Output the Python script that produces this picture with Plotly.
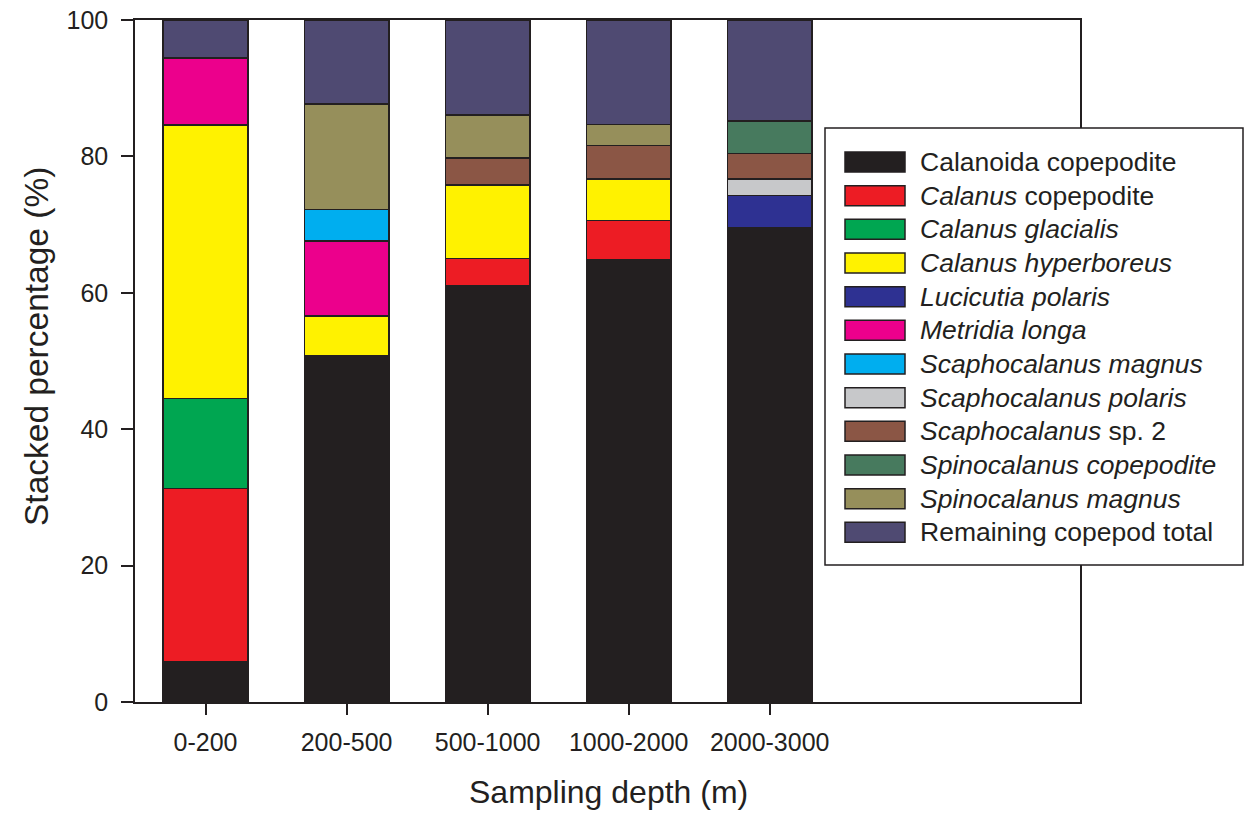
import plotly.graph_objects as go

# Sampling depth intervals (m)
depths = ["0-200", "200-500", "500-1000", "1000-2000", "2000-3000"]

# Taxon names (HTML markup for italics) and stacked percentages per depth
taxa = [
    "Calanoida copepodite",
    "<i>Calanus</i> copepodite",
    "<i>Calanus glacialis</i>",
    "<i>Calanus hyperboreus</i>",
    "<i>Lucicutia polaris</i>",
    "<i>Metridia longa</i>",
    "<i>Scaphocalanus magnus</i>",
    "<i>Scaphocalanus polaris</i>",
    "<i>Scaphocalanus</i> sp. 2",
    "<i>Spinocalanus copepodite</i>",
    "<i>Spinocalanus magnus</i>",
    "Remaining copepod total",
]

calanoida_copepodite = [5.9, 50.8, 61.0, 64.8, 69.6]
calanus_copepodite = [25.4, None, 4.0, 5.8, None]
calanus_glacialis = [13.2, None, None, None, None]
calanus_hyperboreus = [40.1, 5.8, 10.8, 6.1, None]
lucicutia_polaris = [None, None, None, None, 4.7]
metridia_longa = [9.8, 11.0, None, None, None]
scaphocalanus_magnus = [None, 4.6, None, None, None]
scaphocalanus_polaris = [None, None, None, None, 2.4]
scaphocalanus_sp2 = [None, None, 4.0, 4.9, 3.7]
spinocalanus_copepodite = [None, None, None, None, 4.8]
spinocalanus_magnus = [None, 15.5, 6.3, 3.1, None]
remaining_total = [5.6, 12.3, 13.9, 15.3, 14.8]

series = [
    calanoida_copepodite, calanus_copepodite, calanus_glacialis,
    calanus_hyperboreus, lucicutia_polaris, metridia_longa,
    scaphocalanus_magnus, scaphocalanus_polaris, scaphocalanus_sp2,
    spinocalanus_copepodite, spinocalanus_magnus, remaining_total,
]

colors = [
    "#231f20", "#ed1c24", "#00a651", "#fff200", "#2e3192", "#ec008c",
    "#00aeef", "#c7c8ca", "#8b5645", "#477a5e", "#968f5b", "#4f4a72",
]

yticks = [0, 20, 40, 60, 80, 100]

FONT = "Arial, Liberation Sans, sans-serif"
INK = "#231f20"

W, H = 1246, 813
L, R, T, B = 135, 166, 20, 111
plot_w = W - L - R
plot_h = H - T - B


def px_x(x):
    return (x - L) / plot_w


def px_y(y):
    return (H - B - y) / plot_h


fig = go.Figure()
xpos = list(range(len(depths)))
for name, vals, col in zip(taxa, series, colors):
    fig.add_trace(go.Bar(
        x=xpos, y=vals, name=name, width=0.6,
        marker=dict(color=col, line=dict(color=INK, width=1.5)),
        showlegend=False,
    ))

# Hand-built legend box with wide swatches
shapes = [dict(
    type="rect", xref="paper", yref="paper", layer="above",
    x0=px_x(825), x1=px_x(1243), y0=px_y(565), y1=px_y(128),
    fillcolor="white", line=dict(color=INK, width=1.5),
)]
annotations = []
row0, step = 162, 33.67
for i, (name, col) in enumerate(zip(taxa, colors)):
    yc = row0 + i * step
    shapes.append(dict(
        type="rect", xref="paper", yref="paper", layer="above",
        x0=px_x(845), x1=px_x(905), y0=px_y(yc + 10), y1=px_y(yc - 10),
        fillcolor=col, line=dict(color=INK, width=1.5),
    ))
    annotations.append(dict(
        x=px_x(918), y=px_y(yc), xref="paper", yref="paper",
        text=name, showarrow=False, xanchor="left", yanchor="middle",
        font=dict(family=FONT, size=26.5, color=INK),
    ))

# Axis titles
annotations.append(dict(
    x=px_x(608), y=px_y(792), xref="paper", yref="paper",
    text="Sampling depth (m)", showarrow=False,
    xanchor="center", yanchor="middle",
    font=dict(family=FONT, size=32, color=INK),
))
annotations.append(dict(
    x=px_x(36), y=px_y(347), xref="paper", yref="paper",
    text="Stacked percentage (%)", showarrow=False, textangle=-90,
    xanchor="center", yanchor="middle",
    font=dict(family=FONT, size=33.5, color=INK),
))

fig.update_layout(
    width=W, height=H,
    margin=dict(l=L, r=R, t=T, b=B, pad=0, autoexpand=False),
    barmode="stack",
    plot_bgcolor="white", paper_bgcolor="white",
    font=dict(family=FONT, color=INK),
    shapes=shapes, annotations=annotations,
    xaxis=dict(
        range=[-0.5, 6.2], tickvals=xpos, ticktext=depths,
        showline=True, mirror=True, linecolor=INK, linewidth=1.5,
        ticks="outside", ticklen=11, tickwidth=1.5, tickcolor=INK,
        ticklabelstandoff=6,
        showgrid=False, zeroline=False, automargin=False,
        tickfont=dict(family=FONT, size=25, color=INK),
    ),
    yaxis=dict(
        range=[0, 100], tickvals=yticks,
        showline=True, mirror=True, linecolor=INK, linewidth=1.5,
        ticks="outside", ticklen=12, tickwidth=1.5, tickcolor=INK,
        ticklabelstandoff=8,
        showgrid=False, zeroline=False, automargin=False,
        tickfont=dict(family=FONT, size=25, color=INK),
    ),
)

fig.write_html("out.html")
